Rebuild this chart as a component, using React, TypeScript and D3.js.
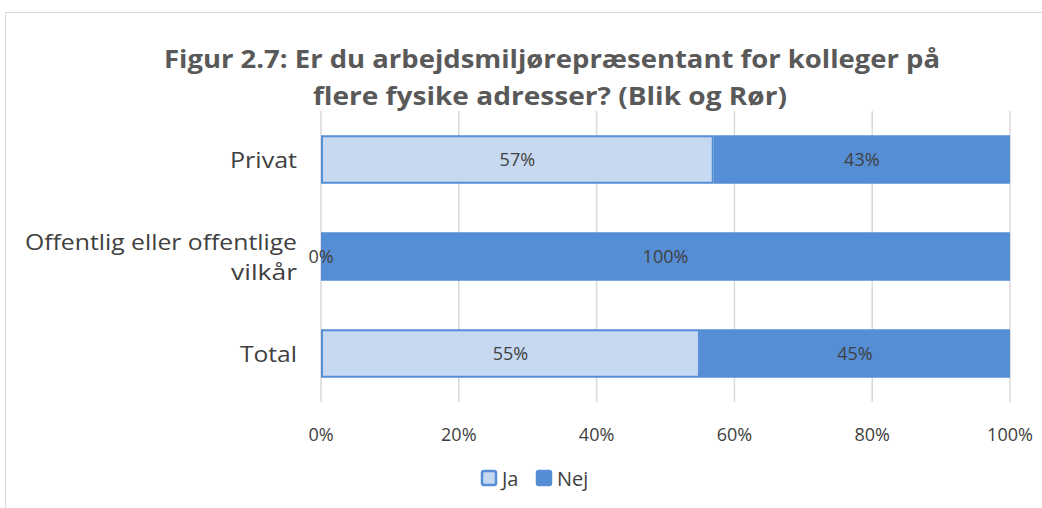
import React from "react";
import * as d3 from "d3";

const categories = ["Privat", "Offentlig eller offentlige vilkår", "Total"];
const categoryLines = [["Privat"], ["Offentlig eller offentlige", "vilkår"], ["Total"]];
const categoryWidths = [[67], [272, 66], [57]];
const jaValues = [57, 0, 55];
const nejValues = [43, 100, 45];
const tickValues = [0, 20, 40, 60, 80, 100];
const seriesNames = ["Ja", "Nej"];

const W = 1042, H = 508;
const plot = { left: 321, right: 1010, top: 111, bottom: 402 };
const font = "Open Sans, Lato, sans-serif";
const textCol = "#404040";
const jaFill = "#C6D9F1";
const nejFill = "#558ED5";

export default function App() {
  const x = d3.scaleLinear().domain([0, 100]).range([plot.left, plot.right]);
  const y = d3.scaleBand<string>().domain(categories).range([plot.top, plot.bottom]).paddingInner(0.5).paddingOuter(0.25);
  const bw = y.bandwidth();
  return (
    <svg width={W} height={H} style={{ position: "absolute", left: 0, top: 0 }}>
      <rect x={0} y={0} width={W} height={H} fill="#fff" />
      <rect x={5.5} y={12.5} width={W} height={H} fill="#fff" stroke="#d9d9d9" strokeWidth={1} />
      <text x={552} y={68} textAnchor="middle" fontFamily={font} fontWeight={700} fontSize={25} fill="#595959" textLength={776} lengthAdjust="spacingAndGlyphs">
        Figur 2.7: Er du arbejdsmiljørepræsentant for kolleger på
      </text>
      <text x={550} y={105} textAnchor="middle" fontFamily={font} fontWeight={700} fontSize={25} fill="#595959" textLength={474} lengthAdjust="spacingAndGlyphs">
        flere fysike adresser? (Blik og Rør)
      </text>
      {tickValues.map((t) => (
        <g key={t}>
          <line x1={x(t)} x2={x(t)} y1={plot.top} y2={plot.bottom} stroke="#d9d9d9" strokeWidth={1.5} />
          <text x={x(t)} y={441} textAnchor="middle" fontFamily={font} fontSize={18} fill={textCol}>{t}%</text>
        </g>
      ))}
      {categories.map((c, i) => {
        const y0 = y(c)!;
        const xj = x(jaValues[i]);
        return (
          <g key={c}>
            {jaValues[i] > 0 && (
              <rect x={x(0) + 1} y={y0 + 1} width={xj - x(0) - 2} height={bw - 2} fill={jaFill} stroke={nejFill} strokeWidth={2} />
            )}
            <rect x={xj} y={y0} width={x(100) - xj} height={bw} fill={nejFill} />
            <text x={(x(0) + xj) / 2} y={y0 + bw / 2 + 6} textAnchor="middle" fontFamily={font} fontSize={18} fill={textCol}>{jaValues[i]}%</text>
            <text x={(xj + x(100)) / 2} y={y0 + bw / 2 + 6} textAnchor="middle" fontFamily={font} fontSize={18} fill={textCol}>{nejValues[i]}%</text>
            {categoryLines[i].map((ln, k) => (
              <text key={k} x={297} y={y0 + bw / 2 + 8 + (k - (categoryLines[i].length - 1) / 2) * 30} textAnchor="end" fontFamily={font} fontSize={22} fill={textCol} textLength={categoryWidths[i][k]} lengthAdjust="spacingAndGlyphs">{ln}</text>
            ))}
          </g>
        );
      })}
      {seriesNames.map((s, i) => {
        const lx = i === 0 ? 482 : 537;
        return (
          <g key={s}>
            <rect x={lx} y={471} width={14} height={14} rx={2} fill={i === 0 ? jaFill : nejFill} stroke={nejFill} strokeWidth={2.5} />
            <text x={lx + 20} y={486} fontFamily={font} fontSize={20} fill={textCol}>{s}</text>
          </g>
        );
      })}
    </svg>
  );
}
